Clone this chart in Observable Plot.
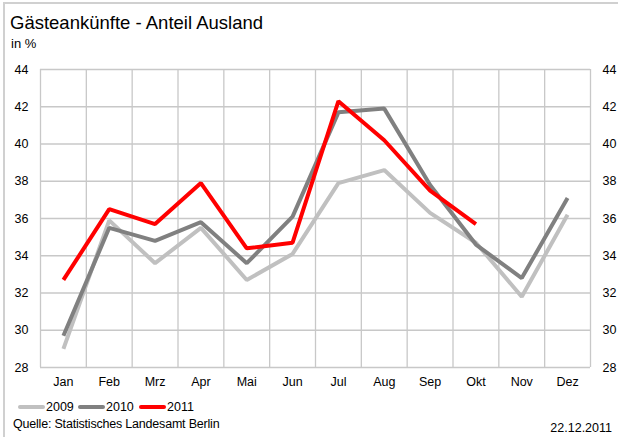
<!DOCTYPE html>
<html><head><meta charset="utf-8">
<script src="https://cdn.jsdelivr.net/npm/d3@7"></script>
<script src="https://cdn.jsdelivr.net/npm/@observablehq/plot@0.6"></script>
<style>
body{margin:0;background:#fff;font-family:"Liberation Sans",Arial,sans-serif;}
#wrap{position:relative;width:618px;height:437px;overflow:hidden;}
#frame{position:absolute;left:3px;top:2px;width:620px;height:440px;border-left:2px solid #d0d0d0;border-top:2px solid #d0d0d0;}
.t{position:absolute;color:#000;white-space:nowrap;}
.sw{position:absolute;height:4px;}
</style></head>
<body><div id="wrap"><div id="frame"></div><div id="chart"></div>
<div class="t" style="left:10px;top:12px;font-size:18.5px;">Gästeankünfte - Anteil Ausland</div>
<div class="t" style="left:11px;top:36px;font-size:13px;">in %</div>
<div id="legend"></div>
<div class="t" style="left:13px;top:417px;font-size:12.5px;letter-spacing:-0.2px;">Quelle: Statistisches Landesamt Berlin</div>
<div class="t" style="right:6px;top:421px;font-size:12.5px;">22.12.2011</div>
</div>
<script>
const months = ["Jan","Feb","Mrz","Apr","Mai","Jun","Jul","Aug","Sep","Okt","Nov","Dez"];
const years = ["2009","2010","2011"];
const v2009 = [29.0,35.9,33.6,35.5,32.7,34.1,37.9,38.6,36.3,34.7,31.8,36.2];
const v2010 = [29.7,35.5,34.8,35.8,33.6,36.1,41.7,41.9,37.8,34.6,32.8,37.1];
const v2011 = [32.7,36.5,35.7,37.9,34.4,34.7,42.3,40.2,37.5,35.7];
const yTicks = [28,30,32,34,36,38,40,42,44];
const colors = ["#c0c0c0","#808080","#ff0000"];

const series = [v2009, v2010, v2011];
const data = [];
series.forEach((vals, s) => vals.forEach((v, i) => data.push({year: years[s], m: i, v})));
const idx = months.map((_, i) => i);
const edges = months.map((_, i) => i - 0.5).concat([months.length - 0.5]);

const plot = Plot.plot({
  width: 618, height: 437,
  marginLeft: 40, marginRight: 28, marginTop: 69, marginBottom: 70,
  style: {fontFamily: '"Liberation Sans", Arial, sans-serif', fontSize: "12.5px", color: "#000", background: "transparent"},
  x: {domain: [-0.5, months.length - 0.5], axis: null},
  y: {domain: [28, 44], axis: null},
  color: {domain: years, range: colors},
  marks: [
    Plot.ruleY(yTicks, {stroke: "#c8c8c8", strokeWidth: 1.3}),
    Plot.ruleX(edges, {stroke: "#c8c8c8", strokeWidth: 1.3}),
    Plot.axisY(yTicks, {anchor: "left", label: null, tickSize: 0, tickPadding: 12, textAnchor: "end", fontSize: 12.5}),
    Plot.axisY(yTicks, {anchor: "right", label: null, tickSize: 0, tickPadding: 12, textAnchor: "start", fontSize: 12.5}),
    Plot.axisX(idx, {anchor: "bottom", label: null, tickSize: 0, tickPadding: 10, tickFormat: i => months[i], fontSize: 12.5}),
    Plot.line(data, {x: "m", y: "v", z: "year", stroke: "year", strokeWidth: 4, strokeLinejoin: "miter", strokeLinecap: "butt"})
  ]
});
document.getElementById("chart").appendChild(plot);

// legend
const lg = document.getElementById("legend");
const lx = [18, 78, 139];
years.forEach((y, i) => {
  const s = document.createElement("div");
  s.className = "sw";
  s.style.cssText = `left:${lx[i]}px;top:405px;width:27px;background:${colors[i]};border-radius:2px;`;
  lg.appendChild(s);
  const t = document.createElement("div");
  t.className = "t";
  t.style.cssText = `left:${lx[i] + 28}px;top:400px;font-size:12.5px;`;
  t.textContent = y;
  lg.appendChild(t);
});
</script></body></html>
